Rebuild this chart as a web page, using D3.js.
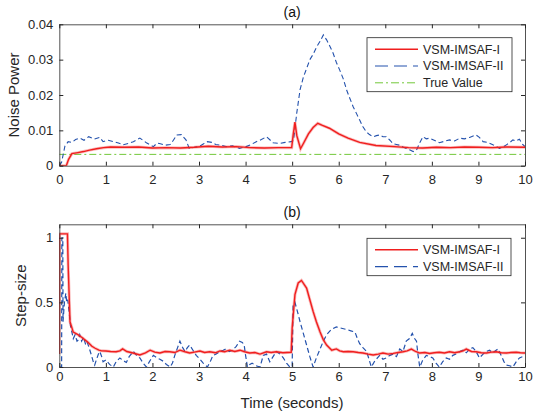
<!DOCTYPE html>
<html>
<head>
<meta charset="utf-8">
<script src="https://cdn.jsdelivr.net/npm/d3@7"></script>
<style>
  body { margin: 0; background: #fff; }
  svg { display: block; font-family: "Liberation Sans", Arial, sans-serif; }
  .axis path, .axis line { stroke: #262626; }
  .axis text { fill: #262626; font-size: 13px; }
</style>
</head>
<body>
<script>
// ---------- data ----------
const xTicks = [0, 1, 2, 3, 4, 5, 6, 7, 8, 9, 10];
const noiseTicks = [0, 0.01, 0.02, 0.03, 0.04];
const stepTicks = [0, 0.5, 1];
const legendNoise = ["VSM-IMSAF-I", "VSM-IMSAF-II", "True Value"];
const legendStep = ["VSM-IMSAF-I", "VSM-IMSAF-II"];
const trueNoise = 0.0032;

// noise power estimate, [time, value]
const noiseI = [
  [0, 0], [0.15, 0], [0.2, 0.0018], [0.27, 0.0034], [0.4, 0.0037], [0.52, 0.004],
  [0.65, 0.0044], [0.8, 0.0048], [0.95, 0.0051], [1.1, 0.0053], [1.4, 0.0052],
  [1.7, 0.0053], [2.0, 0.005], [2.3, 0.0051], [2.6, 0.005], [2.9, 0.0052],
  [3.2, 0.0055], [3.5, 0.0053], [3.8, 0.0054], [4.1, 0.0051], [4.4, 0.005],
  [4.7, 0.0051], [4.99, 0.0051], [5.02, 0.0085], [5.06, 0.0123], [5.1, 0.0085],
  [5.18, 0.0048], [5.25, 0.0065], [5.35, 0.009], [5.45, 0.0108], [5.55, 0.012],
  [5.65, 0.0114], [5.8, 0.0106], [6.0, 0.009], [6.2, 0.0078], [6.45, 0.0066],
  [6.8, 0.0057], [7.2, 0.0054], [7.5, 0.0051], [7.8, 0.005], [8.1, 0.0052],
  [8.4, 0.0051], [8.7, 0.0053], [9.0, 0.0052], [9.3, 0.0051], [9.6, 0.0053], [10, 0.0052]
];
const noiseII = [
  [0, 0], [0.05, 0.001], [0.12, 0.0055], [0.19, 0.0068], [0.27, 0.0066], [0.35, 0.0074],
  [0.44, 0.0078], [0.53, 0.0072], [0.63, 0.0082], [0.75, 0.0075], [0.87, 0.008],
  [0.94, 0.0068], [1.05, 0.0072], [1.16, 0.0068], [1.27, 0.0064], [1.37, 0.0059],
  [1.48, 0.0063], [1.59, 0.0068], [1.73, 0.0078], [1.87, 0.0065], [2.02, 0.0054],
  [2.1, 0.0064], [2.17, 0.0062], [2.28, 0.0058], [2.38, 0.006], [2.45, 0.0072],
  [2.52, 0.0087], [2.62, 0.0088], [2.72, 0.0073], [2.79, 0.0049], [2.9, 0.0052],
  [3.0, 0.0054], [3.1, 0.0062], [3.18, 0.0068], [3.27, 0.0066], [3.36, 0.006],
  [3.47, 0.0058], [3.58, 0.0054], [3.72, 0.0056], [3.87, 0.0049], [4.01, 0.0054],
  [4.12, 0.006], [4.23, 0.0068], [4.34, 0.0074], [4.45, 0.0082], [4.59, 0.0065],
  [4.74, 0.0063], [4.85, 0.0066], [4.98, 0.0068], [5.03, 0.0072], [5.1, 0.015],
  [5.17, 0.0215], [5.24, 0.025], [5.31, 0.0275], [5.38, 0.03], [5.45, 0.0315],
  [5.53, 0.0337], [5.6, 0.0352], [5.67, 0.037], [5.74, 0.0356], [5.81, 0.0338],
  [5.88, 0.0318], [5.95, 0.0292], [6.02, 0.0271], [6.1, 0.0245], [6.17, 0.0214],
  [6.24, 0.019], [6.31, 0.0167], [6.38, 0.0148], [6.45, 0.0129], [6.52, 0.011],
  [6.59, 0.0096], [6.66, 0.0088], [6.74, 0.0082], [6.81, 0.0085], [6.88, 0.0087],
  [6.95, 0.0082], [7.02, 0.0082], [7.1, 0.0072], [7.17, 0.0062], [7.24, 0.006],
  [7.31, 0.0058], [7.38, 0.0053], [7.45, 0.0049], [7.52, 0.0045], [7.6, 0.004],
  [7.67, 0.0044], [7.74, 0.0065], [7.81, 0.0082], [7.88, 0.0076], [7.95, 0.0078],
  [8.05, 0.0072], [8.16, 0.0065], [8.27, 0.0069], [8.38, 0.0073], [8.49, 0.007],
  [8.6, 0.0078], [8.7, 0.0076], [8.81, 0.008], [8.95, 0.0087], [9.02, 0.008],
  [9.1, 0.0068], [9.2, 0.0066], [9.31, 0.0059], [9.38, 0.0055], [9.45, 0.0049],
  [9.52, 0.0052], [9.6, 0.0059], [9.67, 0.0065], [9.74, 0.0073], [9.81, 0.007],
  [9.88, 0.0075], [9.95, 0.006], [10, 0.0054]
];

// step-size, [time, value]
const stepI = [
  [0, 0.1], [0.005, 1.03], [0.175, 1.03], [0.19, 0.79], [0.23, 0.35], [0.3, 0.27],
  [0.4, 0.25], [0.48, 0.23], [0.55, 0.21], [0.62, 0.19], [0.7, 0.16], [0.77, 0.145],
  [0.85, 0.13], [0.91, 0.125], [1.0, 0.124], [1.1, 0.12], [1.22, 0.118], [1.3, 0.125],
  [1.36, 0.14], [1.45, 0.12], [1.58, 0.108], [1.73, 0.093], [1.85, 0.11], [1.95, 0.13],
  [2.05, 0.115], [2.16, 0.108], [2.27, 0.12], [2.37, 0.118], [2.48, 0.112], [2.59, 0.13],
  [2.7, 0.118], [2.8, 0.108], [2.9, 0.115], [3.02, 0.124], [3.12, 0.112], [3.23, 0.118],
  [3.35, 0.11], [3.45, 0.124], [3.55, 0.118], [3.66, 0.13], [3.77, 0.12], [3.88, 0.13],
  [3.98, 0.118], [4.09, 0.108], [4.2, 0.112], [4.31, 0.1], [4.45, 0.118], [4.55, 0.112],
  [4.66, 0.118], [4.8, 0.11], [4.98, 0.114], [5.0, 0.3], [5.06, 0.56], [5.13, 0.65],
  [5.2, 0.67], [5.31, 0.61], [5.38, 0.52], [5.45, 0.43], [5.52, 0.35], [5.6, 0.27],
  [5.67, 0.21], [5.74, 0.17], [5.85, 0.13], [5.95, 0.14], [6.02, 0.125], [6.1, 0.118],
  [6.2, 0.12], [6.31, 0.118], [6.42, 0.112], [6.52, 0.108], [6.63, 0.1], [6.74, 0.093],
  [6.85, 0.1], [6.95, 0.108], [7.06, 0.1], [7.17, 0.105], [7.28, 0.112], [7.38, 0.118],
  [7.47, 0.125], [7.56, 0.139], [7.65, 0.12], [7.74, 0.108], [7.85, 0.112], [7.95, 0.105],
  [8.05, 0.11], [8.16, 0.114], [8.27, 0.108], [8.38, 0.118], [8.49, 0.11], [8.6, 0.118],
  [8.67, 0.125], [8.74, 0.139], [8.85, 0.12], [8.95, 0.118], [9.06, 0.11], [9.17, 0.108],
  [9.28, 0.115], [9.38, 0.118], [9.49, 0.11], [9.6, 0.108], [9.7, 0.112], [9.81, 0.114],
  [9.9, 0.11], [10, 0.108]
];
const stepII = [
  [0, 0], [0.05, 0], [0.055, 1.0], [0.075, 1.0], [0.08, 0.35], [0.11, 0.5], [0.14, 0.57],
  [0.16, 0.5], [0.18, 0.52], [0.21, 0.43], [0.24, 0.32], [0.27, 0.27], [0.3, 0.22],
  [0.34, 0.25], [0.38, 0.2], [0.41, 0.21], [0.44, 0.25], [0.48, 0.2], [0.52, 0.23],
  [0.56, 0.18], [0.59, 0.2], [0.64, 0.15], [0.69, 0.09], [0.73, 0.04], [0.76, 0.015],
  [0.8, 0.06], [0.84, 0.1], [0.87, 0.12], [0.91, 0.08], [0.94, 0.04], [1.0, 0.054],
  [1.08, 0.02], [1.16, 0], [1.22, 0.04], [1.3, 0.07], [1.37, 0.05], [1.44, 0.035],
  [1.5, 0.08], [1.59, 0.12], [1.66, 0.09], [1.73, 0.07], [1.8, 0.03], [1.87, 0],
  [1.95, 0.05], [2.02, 0.09], [2.1, 0.07], [2.16, 0.06], [2.23, 0.045], [2.3, 0.02],
  [2.38, 0], [2.43, 0.03], [2.48, 0.09], [2.54, 0.15], [2.59, 0.2], [2.65, 0.15],
  [2.7, 0.12], [2.75, 0.15], [2.8, 0.17], [2.87, 0.13], [2.94, 0.09], [3.02, 0.06],
  [3.09, 0.03], [3.18, 0], [3.24, 0.04], [3.3, 0.09], [3.37, 0.1], [3.45, 0.12],
  [3.52, 0.13], [3.58, 0.14], [3.65, 0.12], [3.72, 0.13], [3.8, 0.16], [3.87, 0.2],
  [3.93, 0.19], [3.97, 0.17], [4.0, 0.09], [4.04, 0], [4.09, 0.02], [4.14, 0.03],
  [4.22, 0.01], [4.31, 0], [4.38, 0.09], [4.45, 0.1], [4.52, 0.04], [4.59, 0.08],
  [4.66, 0.12], [4.74, 0.1], [4.81, 0.07], [4.88, 0.03], [4.95, 0], [5.0, 0],
  [5.02, 0.48], [5.06, 0.5], [5.12, 0.42], [5.17, 0.35], [5.24, 0.26], [5.31, 0.17],
  [5.38, 0.08], [5.45, 0], [5.52, 0.07], [5.6, 0.14], [5.67, 0.2], [5.74, 0.25],
  [5.84, 0.29], [5.95, 0.31], [6.06, 0.3], [6.17, 0.29], [6.26, 0.28], [6.35, 0.27],
  [6.4, 0.22], [6.45, 0.18], [6.52, 0.15], [6.6, 0.12], [6.65, 0.06], [6.7, 0],
  [6.78, 0.05], [6.88, 0.09], [6.95, 0.06], [7.02, 0.07], [7.1, 0.09], [7.17, 0.1],
  [7.24, 0.08], [7.31, 0.14], [7.38, 0.12], [7.45, 0.2], [7.52, 0.22], [7.58, 0.26],
  [7.63, 0.22], [7.67, 0.2], [7.7, 0.1], [7.74, 0], [7.8, 0.05], [7.88, 0.09],
  [7.95, 0.08], [8.02, 0.07], [8.09, 0.03], [8.16, 0], [8.23, 0.04], [8.31, 0.07],
  [8.38, 0.06], [8.45, 0.09], [8.52, 0.1], [8.6, 0.12], [8.67, 0.13], [8.74, 0.11],
  [8.81, 0.14], [8.88, 0.15], [8.95, 0.12], [9.02, 0.07], [9.1, 0.1], [9.17, 0.12],
  [9.24, 0.13], [9.31, 0.11], [9.38, 0.13], [9.42, 0.14], [9.5, 0.08], [9.55, 0.04],
  [9.6, 0.015], [9.67, 0.01], [9.74, 0], [9.81, 0.04], [9.88, 0.07], [9.95, 0.08], [10, 0.09]
];

// ---------- styles ----------
const RED = "#f01e1e";
const BLUE = "#2452ad";
const GREEN = "#72c83a";
const W = 533, H = 414;

const svg = d3.select("body").append("svg")
  .attr("width", W)
  .attr("height", H);

// one panel = one MATLAB-like boxed axes
function panel(opts) {
  const { top, bottom, yDomain, yTicks, yFmt, title, ylabel, labelX, xPad } = opts;
  const x = d3.scaleLinear().domain([0, 10]).range([59.3, 525]);
  const y = d3.scaleLinear().domain(yDomain).range([bottom, top]);
  const g = svg.append("g");

  const clipId = "clip-" + title.replace(/\W/g, "");
  g.append("clipPath").attr("id", clipId)
    .append("rect")
    .attr("x", x.range()[0]).attr("y", top)
    .attr("width", x.range()[1] - x.range()[0]).attr("height", bottom - top);

  const plot = g.append("g").attr("clip-path", `url(#${clipId})`);

  // axes with inward ticks on all four sides
  g.append("g").attr("class", "axis")
    .attr("transform", `translate(0,${bottom})`)
    .call(d3.axisBottom(x).tickValues(xTicks).tickSizeInner(-4).tickSizeOuter(0).tickPadding(xPad));
  g.append("g").attr("class", "axis")
    .attr("transform", `translate(0,${top})`)
    .call(d3.axisTop(x).tickValues(xTicks).tickSizeInner(-4).tickSizeOuter(0).tickFormat(""));
  g.append("g").attr("class", "axis")
    .attr("transform", `translate(${x.range()[0]},0)`)
    .call(d3.axisLeft(y).tickValues(yTicks).tickSizeInner(-4).tickSizeOuter(0).tickPadding(6).tickFormat(yFmt));
  g.append("g").attr("class", "axis")
    .attr("transform", `translate(${x.range()[1]},0)`)
    .call(d3.axisRight(y).tickValues(yTicks).tickSizeInner(-4).tickSizeOuter(0).tickFormat(""));
  g.selectAll(".axis .domain").attr("stroke-width", 0.8);

  g.append("text")
    .attr("x", (x.range()[0] + x.range()[1]) / 2)
    .attr("y", top - 7)
    .attr("text-anchor", "middle")
    .attr("font-size", 14)
    .attr("fill", "#111")
    .text(title);

  g.append("text")
    .attr("transform", `translate(${labelX},${(top + bottom) / 2}) rotate(-90)`)
    .attr("text-anchor", "middle")
    .attr("dy", "0.35em")
    .attr("font-size", 15)
    .attr("fill", "#262626")
    .text(ylabel);

  const line = d3.line().x(d => x(d[0])).y(d => y(d[1]));
  return { x, y, g, plot, line };
}

function legend(g, x0, y0, w, h, items) {
  const lg = g.append("g");
  lg.append("rect")
    .attr("x", x0).attr("y", y0).attr("width", w).attr("height", h)
    .attr("fill", "#fff").attr("stroke", "#262626").attr("stroke-width", 0.8);
  items.forEach((it, i) => {
    const yy = y0 + 11.5 + i * 16.8;
    lg.append("line")
      .attr("x1", x0 + 8).attr("x2", x0 + 51)
      .attr("y1", yy).attr("y2", yy)
      .attr("stroke", it.color)
      .attr("stroke-width", it.width)
      .attr("stroke-dasharray", it.dash);
    lg.append("text")
      .attr("x", x0 + 56).attr("y", yy)
      .attr("dy", "0.35em")
      .attr("font-size", 12.5)
      .attr("fill", "#262626")
      .text(it.label);
  });
}

// ---------- (a) noise power ----------
const a = panel({
  top: 24.3, bottom: 165.7, yDomain: [0, 0.04], yTicks: noiseTicks,
  yFmt: d => d === 0 ? "0" : d3.format(".2f")(d),
  title: "(a)", ylabel: "Noise Power", labelX: 14, xPad: 9
});
a.plot.append("line")
  .attr("x1", a.x(0)).attr("x2", a.x(10))
  .attr("y1", a.y(trueNoise)).attr("y2", a.y(trueNoise))
  .attr("stroke", GREEN).attr("stroke-width", 1)
  .attr("stroke-dasharray", "7,3,2,3");
a.plot.append("path").datum(noiseII)
  .attr("d", a.line).attr("fill", "none")
  .attr("stroke", BLUE).attr("stroke-width", 1.1)
  .attr("stroke-dasharray", "5,3");
a.plot.append("path").datum(noiseI)
  .attr("d", a.line).attr("fill", "none")
  .attr("stroke", RED).attr("stroke-opacity", 0.3).attr("stroke-width", 3);
a.plot.append("path").datum(noiseI)
  .attr("d", a.line).attr("fill", "none")
  .attr("stroke", RED).attr("stroke-width", 1.4);
legend(a.g, 367, 37.7, 145, 54, [
  { label: legendNoise[0], color: RED, width: 1.4, dash: null },
  { label: legendNoise[1], color: BLUE, width: 1.1, dash: "13,6" },
  { label: legendNoise[2], color: GREEN, width: 1, dash: "8,3,2,3" }
]);

// ---------- (b) step-size ----------
const b = panel({
  top: 224.3, bottom: 367, yDomain: [0, 1.104], yTicks: stepTicks,
  yFmt: d => d3.format("")(d),
  title: "(b)", ylabel: "Step-size", labelX: 21, xPad: 5
});
b.plot.append("path").datum(stepII)
  .attr("d", b.line).attr("fill", "none")
  .attr("stroke", BLUE).attr("stroke-width", 1.2)
  .attr("stroke-dasharray", "5,3");
b.plot.append("path").datum(stepI)
  .attr("d", b.line).attr("fill", "none")
  .attr("stroke", RED).attr("stroke-opacity", 0.3).attr("stroke-width", 3);
b.plot.append("path").datum(stepI)
  .attr("d", b.line).attr("fill", "none")
  .attr("stroke", RED).attr("stroke-width", 1.4);
legend(b.g, 367, 238.3, 144, 37.4, [
  { label: legendStep[0], color: RED, width: 1.4, dash: null },
  { label: legendStep[1], color: BLUE, width: 1.1, dash: "13,6" }
]);

svg.append("text")
  .attr("x", 292)
  .attr("y", 408)
  .attr("text-anchor", "middle")
  .attr("font-size", 15)
  .attr("fill", "#262626")
  .text("Time (seconds)");
</script>
</body>
</html>
